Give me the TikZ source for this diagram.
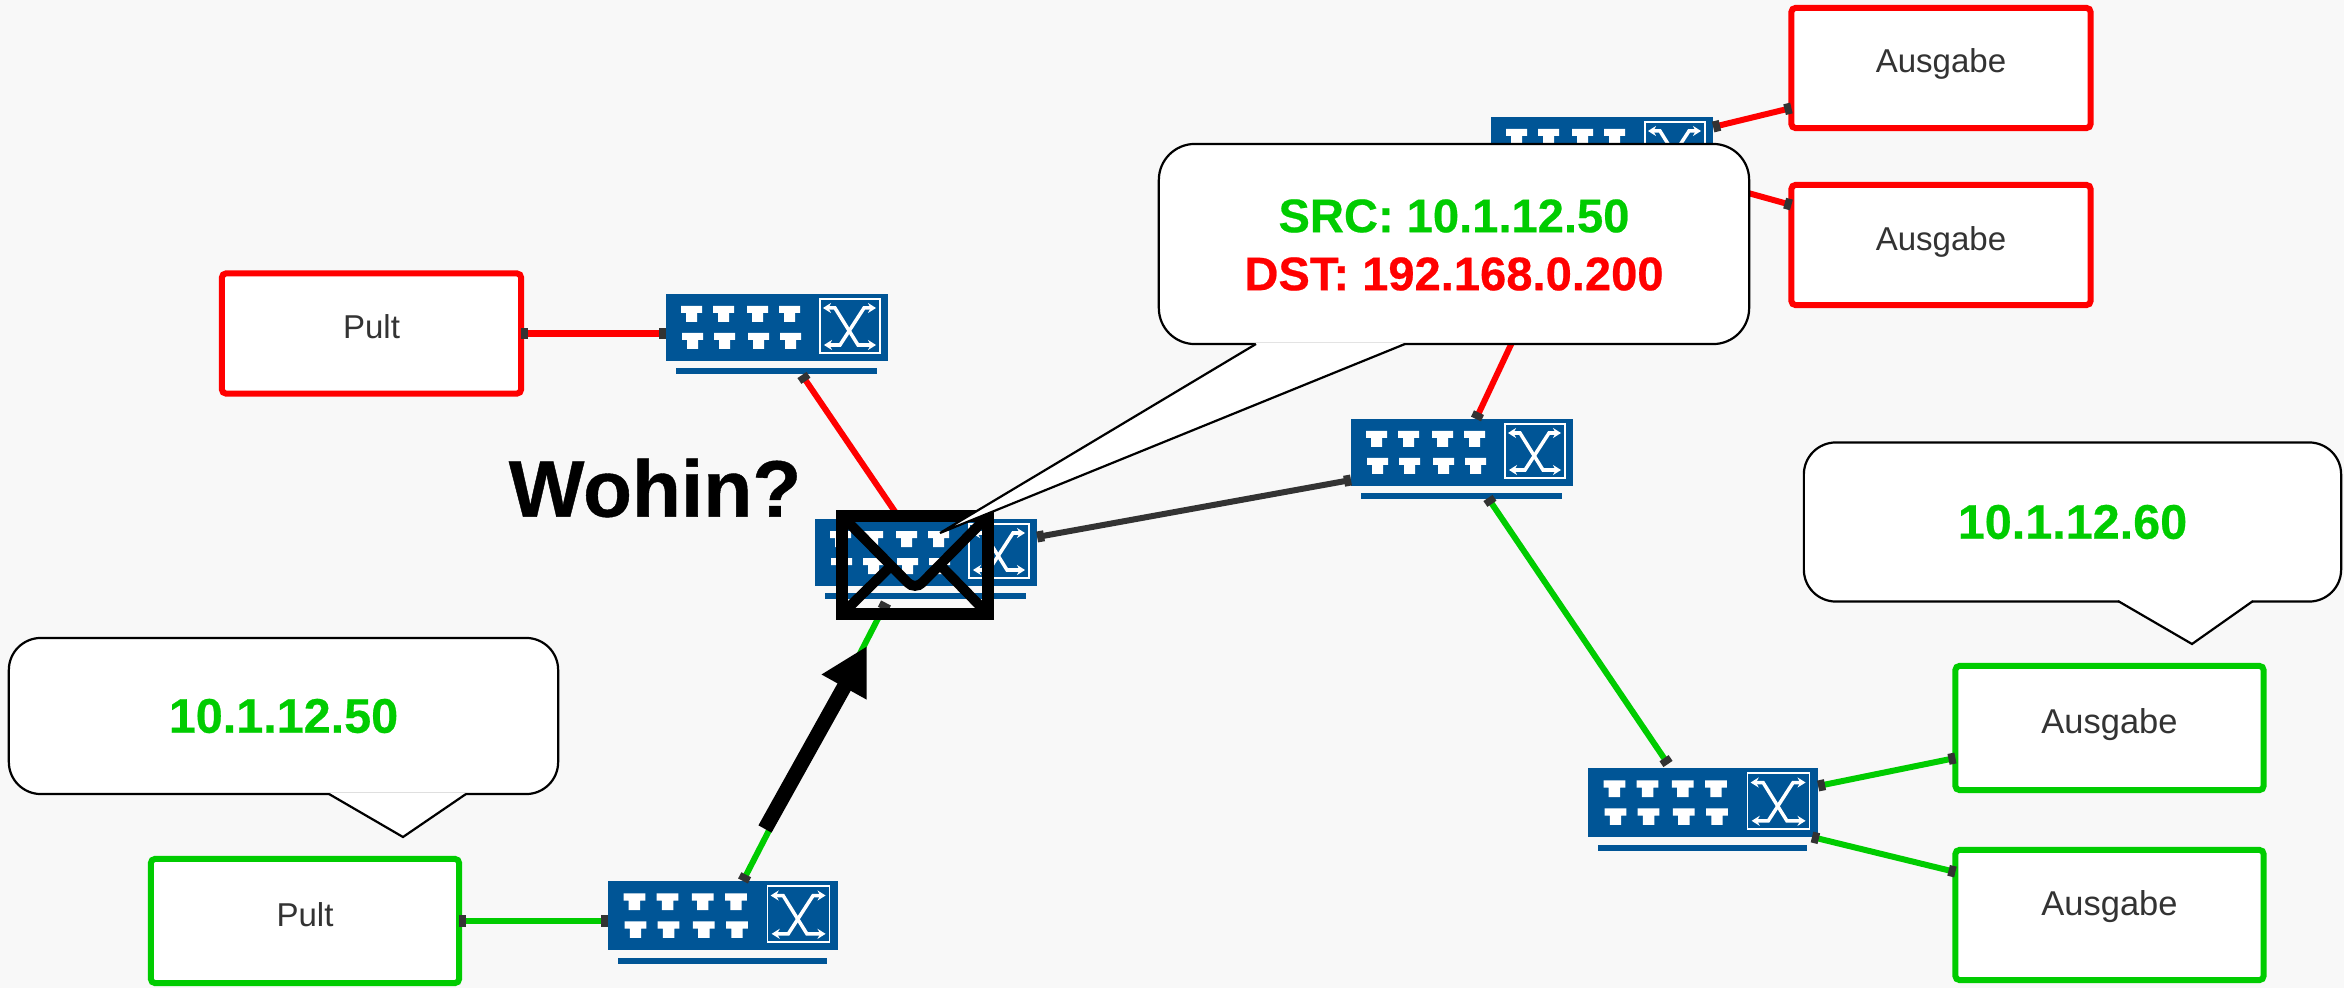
\documentclass[tikz,border=0pt]{standalone}
\usepackage{fontspec}
\usepackage{tikz}
\usetikzlibrary{arrows.meta}
\setmainfont{Liberation Sans}
\newfontfamily\heavyfont[BoldFeatures={FakeBold=0.5}]{Liberation Sans}

\definecolor{pagegray}{HTML}{F8F8F8}
\definecolor{textgray}{HTML}{333333}
\definecolor{switchblue}{HTML}{005596}
\definecolor{linkred}{HTML}{FF0000}
\definecolor{linkgreen}{HTML}{00CC00}

\begin{document}
\begin{tikzpicture}[
        x=0.01cm, y=-0.01cm,
        unit/.style={
            draw,
            rectangle,
            fill=white,
            rounded corners=0.04cm,
            line width=0.06cm,
            outer sep=0pt,
            text=textgray,
            font=\fontsize{9.4pt}{11pt}\selectfont,
            text height=0.3cm,
            text depth=0.2cm,
            minimum width=2.99cm,
            minimum height=1.2cm,
            align=center
        },
        greenunit/.style={
            unit,
            draw=linkgreen,
            minimum width=3.08cm,
            minimum height=1.24cm
        },
        endmark/.tip={Rectangle[length=0.07cm,width=0.11cm,textgray]},
        redlink/.style={line width=0.06cm, linkred, endmark-endmark},
        greenlink/.style={line width=0.06cm, linkgreen, endmark-endmark},
        graylink/.style={line width=0.06cm, textgray, endmark-endmark},
        bubble/.style={draw=black, fill=white, line width=0.022cm, rounded corners=0.32cm, inner sep=0pt, outer sep=0pt, font=\fontsize{13.8pt}{15pt}\heavyfont\bfseries\selectfont, text=linkgreen},
        bubbletail/.style={line width=0.022cm, black},
        addr/.style={font=\fontsize{13.4pt}{15pt}\heavyfont\bfseries\selectfont, inner sep=0pt},
        crossarrow/.style={white, line width=0.035cm, {Stealth[length=0.08cm,width=0.1cm]}-{Stealth[length=0.08cm,width=0.1cm]}},
        switchicon/.pic={
            \node[fill=switchblue, minimum width=2.22cm, minimum height=0.67cm, inner sep=0pt, outer sep=0pt, transform shape, anchor=north west] (-body) at (0,0) {};
            \node[fill=switchblue, minimum width=2.01cm, minimum height=0.06cm, inner sep=0pt, outer sep=0pt, transform shape, anchor=north west] (-bar) at (10,74) {};
            % ports
            \foreach \px in {15,47,81,113} {
                \foreach \py/\pd in {12/0,39/1} {
                    \fill[white] (\px+\pd,\py) -- ++(21,0) -- ++(0,7) -- ++(-5,0) -- ++(0,9) -- ++(-11,0) -- ++(0,-9) -- ++(-5,0) -- cycle;
                }
            }
            % cross
            \draw[white, line width=0.015cm] (154,5) rectangle (214,59);
            \draw[crossarrow] (157,14) -- (169,14) -- (192,51) -- (210,51);
            \draw[crossarrow] (210,14) -- (198,14) -- (174,51) -- (158,51);
        }
    ]
        % Page
        \fill[pagegray] (0,0) rectangle (2344,988);
        \useasboundingbox (0,0) rectangle (2344,988);

        % Switches
        \foreach \n/\x/\y/\s in {swa/666/294/1,swb/815/519/1,swc/1351/419/1,swd/1491/117/1,swe/1588/768/1.036,swf/608/881/1.036} {
            \pic[scale=\s] (\n) at (\x,\y) {switchicon};
        }

        % Consoles and outputs
        \node[unit, draw=linkred] (pulta) at (371.5,333.5) {Pult};
        \node[unit, draw=linkred] (ausa) at (1941,68) {Ausgabe};
        \node[unit, draw=linkred] (ausb) at (1941,245) {Ausgabe};
        \node[greenunit] (pultb) at (305,921) {Pult};
        \node[greenunit, font=\fontsize{9.8pt}{11pt}\selectfont] (ausc) at (2109.5,728) {Ausgabe};
        \node[greenunit, font=\fontsize{9.8pt}{11pt}\selectfont, minimum height=1.3cm, text depth=0.29cm] (ausd) at (2109.5,915) {Ausgabe};

        % Free ends of the links
        \coordinate (swdout) at (1712,183);
        \coordinate (swdin) at (1579,200);

        % Links
        \draw[redlink] (swa-body.west |- pulta.east) -- (pulta.east);
        \draw[redlink] (swb-body.north -| 900,0) -- (802,375);
        \draw[redlink] (swc-body.north -| 1476,0) -- (swdin);
        \draw[redlink] (swd-body.east |- 0,127) -- (ausa.west |- 0,108);
        \draw[redlink] (swdout) -- (ausb.west |- 0,205);
        \draw[graylink] (swb-body.east |- 0,537) -- (swc-body.west |- 0,480);
        \draw[greenlink] (pultb.east) -- (swf-body.west |- pultb.east);
        \draw[greenlink] (743,881) -- (886,603);
        \draw[greenlink] (1488,498) -- (1668,764);
        \draw[greenlink] (swe-body.east |- 0,786) -- (ausc.west |- 0,758);
        \draw[greenlink] (1812,837) -- (ausd.west |- 0,872);

        % Envelope
        \node[draw, line width=0.12cm, minimum width=1.46cm, minimum height=0.98cm, inner sep=0pt, outer sep=0pt] (envelope) at (915,565) {};
        \draw[line width=0.1cm, rounded corners=0.1cm] (envelope.north west) -- (915,590) -- (envelope.north east);
        \draw[line width=0.1cm] (envelope.south west) -- (892,565);
        \draw[line width=0.1cm] (envelope.south east) -- (940,565);

        % Callouts
        \node[bubble, minimum width=5.9cm, minimum height=2cm, rounded corners=0.36cm] (pktbubble) at (1454,244) {};
        \fill[white] (1256,343) -- (940,533) -- (1405,343) -- cycle;
        \draw[bubbletail] (1256,344) -- (940,533) -- (1405,344);
        \node[bubble, minimum width=5.49cm, minimum height=1.56cm] (pultbubble) at (283.5,716) {10.1.12.50};
        \fill[white] (329,793) -- (403,837) -- (466,793) -- cycle;
        \draw[bubbletail] (329,794) -- (403,837) -- (466,794);
        \node[bubble, minimum width=5.37cm, minimum height=1.59cm] (ausbubble) at (2072.5,522) {10.1.12.60};
        \fill[white] (2118,600) -- (2192,644) -- (2253,600) -- cycle;
        \draw[bubbletail] (2118,601) -- (2192,644) -- (2253,601);

        \node[addr, text=linkgreen] (srcaddr) at (1454,216) {SRC: 10.1.12.50};
        \node[addr, text=linkred] (dstaddr) at (1454,274) {DST: 192.168.0.200};

        % Question
        \node[font=\fontsize{22.8pt}{26pt}\heavyfont\bfseries\selectfont, inner sep=0pt] (wohin) at (655,488) {Wohin?};

        % Big arrow
        \draw[line width=0.15cm, -{Triangle[length=0.47cm,width=0.48cm]}] (765,829) -- (867,646);
\end{tikzpicture}
\end{document}
